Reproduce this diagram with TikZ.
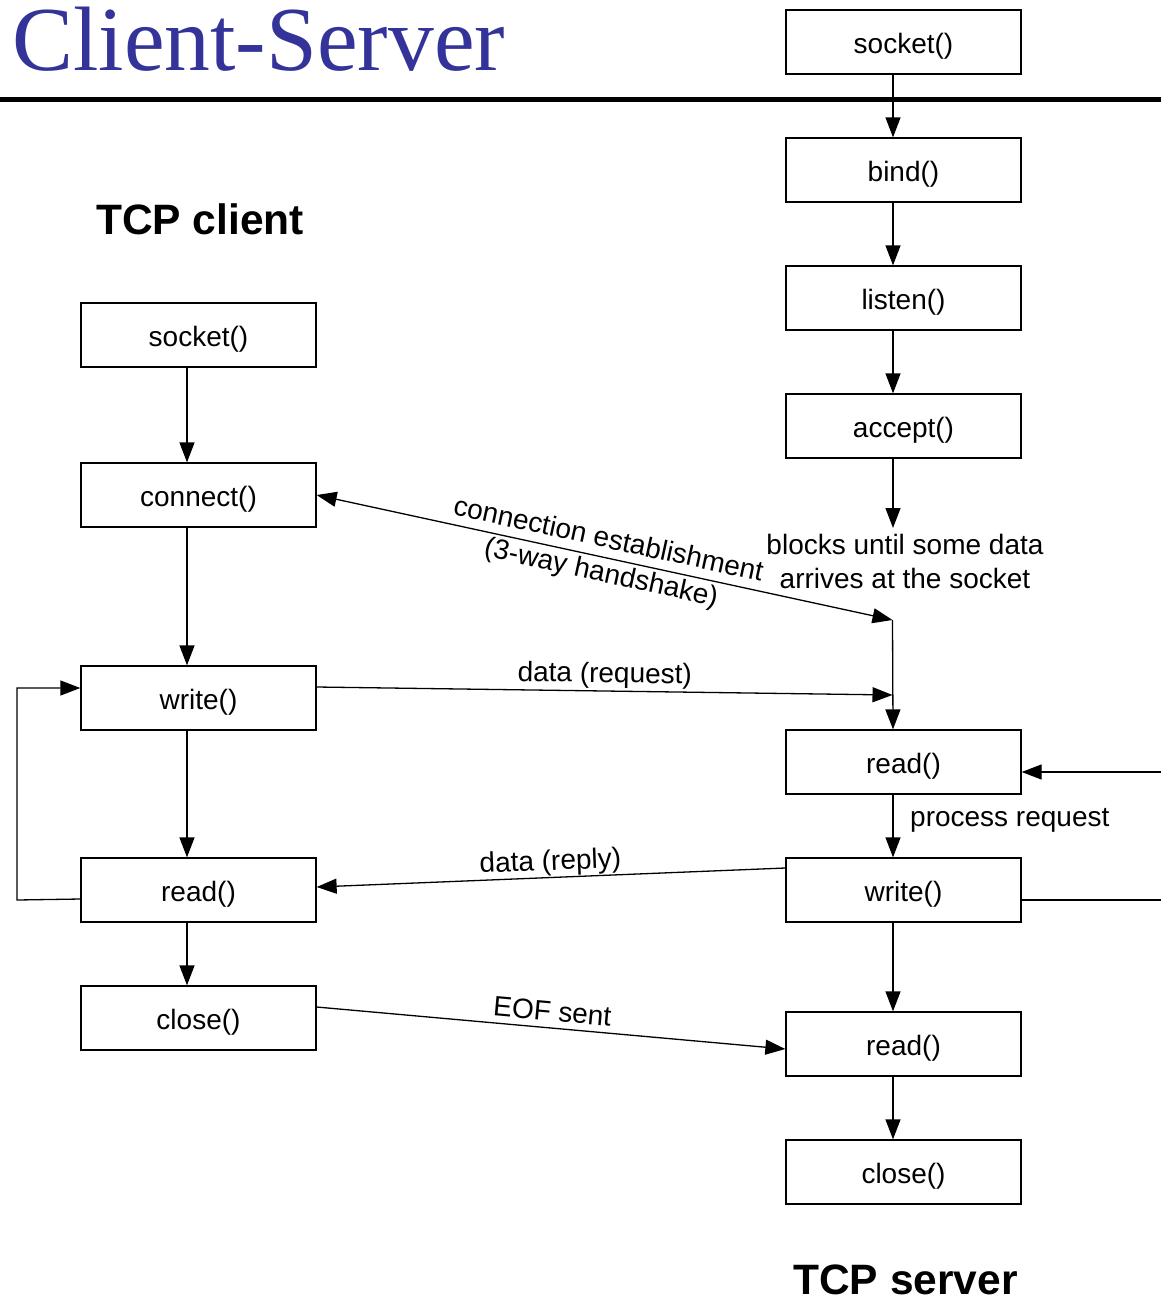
\documentclass[tikz,border=0pt]{standalone}
\usepackage{fontspec}
\setmainfont{Liberation Sans}
\newfontfamily\serifttl{Liberation Serif}
\usetikzlibrary{arrows.meta,calc}
\definecolor{titleblue}{RGB}{51,51,153}
\begin{document}
\begin{tikzpicture}[x=1pt,y=-1pt,
  callbox/.style={draw,line width=1.3pt,minimum width=235pt,minimum height=64pt,
    inner sep=0pt,text height=26pt,text depth=3.5pt,font=\fontsize{28}{30}\selectfont},
  flow/.style={line width=1.3pt,-{Triangle[length=20pt,width=15pt]}},
  bothflow/.style={line width=1.3pt,{Triangle[length=20pt,width=15pt]}-{Triangle[length=20pt,width=15pt]}},
  plain/.style={line width=1.3pt},
  lbl/.style={font=\fontsize{28}{34}\selectfont,inner sep=0pt,align=center},
  heading/.style={font=\bfseries\fontsize{42.5}{44}\selectfont,inner sep=0pt}]
\useasboundingbox (0,0) rectangle (1161,1299);

% title and rule
\node[anchor=base west,inner sep=0pt,text=titleblue,font=\serifttl\fontsize{91.5}{92}\selectfont] (title) at (12,70) {Client-Server};
\draw[line width=5pt] (0,99) -- (1161,99);

% headings
\node[heading,anchor=base] (hclient) at (200,234) {TCP client};
\node[heading,anchor=base] (hserver) at (905.5,1294) {TCP server};

% client calls
\node[callbox] (csock) at (198.5,335) {socket()};
\node[callbox] (cconn) at (198.5,495) {connect()};
\node[callbox] (cwrite) at (198.5,698) {write()};
\node[callbox] (cread) at (198.5,890) {read()};
\node[callbox] (cclose) at (198.5,1018) {close()};

% server calls
\node[callbox] (ssock) at (903.5,42) {socket()};
\node[callbox] (sbind) at (903.5,170) {bind()};
\node[callbox] (slisten) at (903.5,298) {listen()};
\node[callbox] (saccept) at (903.5,426) {accept()};
\node[callbox] (sread) at (903.5,762) {read()};
\node[callbox] (swrite) at (903.5,890) {write()};
\node[callbox] (sread2) at (903.5,1044) {read()};
\node[callbox] (sclose) at (903.5,1172) {close()};

% auxiliary points
\coordinate (block) at (893,528);
\coordinate (hs) at (892.5,620);
\coordinate (req) at (892.5,695);
\coordinate (loopbot) at (17,900);
\coordinate (looptop) at (17,688);
\coordinate (rin) at (1161,772);
\coordinate (rout) at (1161,900);

% client flow
\draw[flow] ([xshift=-11.5pt]csock.south) -- ([xshift=-11.5pt]cconn.north);
\draw[flow] ([xshift=-11.5pt]cconn.south) -- ([xshift=-11.5pt]cwrite.north);
\draw[flow] ([xshift=-11.5pt]cwrite.south) -- ([xshift=-11.5pt]cread.north);
\draw[flow] ([xshift=-11.5pt]cread.south) -- ([xshift=-11.5pt]cclose.north);
\draw[flow] ([yshift=-9pt]cread.west) -- (loopbot) -- (looptop) -- ([yshift=10pt]cwrite.west);

% server flow
\draw[flow] ([xshift=-10.5pt]ssock.south) -- ([xshift=-10.5pt]sbind.north);
\draw[flow] ([xshift=-10.5pt]sbind.south) -- ([xshift=-10.5pt]slisten.north);
\draw[flow] ([xshift=-10.5pt]slisten.south) -- ([xshift=-10.5pt]saccept.north);
\draw[flow] ([xshift=-10.5pt]saccept.south) -- (block);
\draw[flow] (hs) -- ([xshift=-10.5pt]sread.north);
\draw[flow] ([xshift=-10.5pt]sread.south) -- ([xshift=-10.5pt]swrite.north);
\draw[flow] ([xshift=-10.5pt]swrite.south) -- ([xshift=-10.5pt]sread2.north);
\draw[flow] ([xshift=-10.5pt]sread2.south) -- ([xshift=-10.5pt]sclose.north);
\draw[flow] (rin) -- ([yshift=-10pt]sread.east);
\draw[plain] ([yshift=-10pt]swrite.east) -- (rout);

% messages between client and server
\draw[bothflow] (cconn.east) -- node[lbl,sloped,pos=0.5] {connection establishment\\(3-way handshake)} (hs);
\draw[flow] ([yshift=11pt]cwrite.east) -- node[lbl,sloped,above=2pt,pos=0.5] {data (request)} (req);
\draw[flow] ([yshift=22pt]swrite.west) -- node[lbl,sloped,above=1pt,pos=0.5] {data (reply)} ([yshift=3pt]cread.east);
\draw[flow] ([yshift=11pt]cclose.east) -- node[lbl,sloped,above=6pt,pos=0.5] {EOF sent} ([yshift=-5pt]sread2.west);

% notes
\node[lbl] (blocknote) at (905,561) {blocks until some data\\arrives at the socket};
\node[lbl,anchor=west] (procnote) at (910,820) {process request};
\end{tikzpicture}
\end{document}
